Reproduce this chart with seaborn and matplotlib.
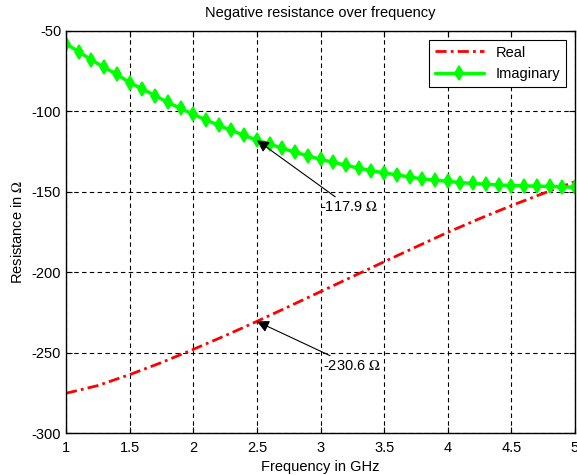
import numpy as np
import pandas as pd
import matplotlib
matplotlib.use('Agg')
import matplotlib.pyplot as plt
import seaborn as sns

# frequency grid for the imaginary part (markers every 0.1 GHz)
freq_imag = [1.0, 1.1, 1.2, 1.3, 1.4, 1.5, 1.6, 1.7, 1.8, 1.9,
             2.0, 2.1, 2.2, 2.3, 2.4, 2.5, 2.6, 2.7, 2.8, 2.9,
             3.0, 3.1, 3.2, 3.3, 3.4, 3.5, 3.6, 3.7, 3.8, 3.9,
             4.0, 4.1, 4.2, 4.3, 4.4, 4.5, 4.6, 4.7, 4.8, 4.9, 5.0]
imag_vals = [-57.9, -62.9, -68.0, -72.6, -77.0, -82.1, -86.0, -90.2, -94.4, -98.1,
             -101.8, -105.3, -108.7, -111.8, -114.9, -117.9, -120.2, -123.0, -125.4, -127.6,
             -129.8, -131.7, -133.5, -135.3, -136.9, -138.2, -139.5, -140.8, -142.0, -142.8,
             -143.5, -144.3, -144.8, -145.3, -145.8, -146.1, -146.3, -146.5, -146.7, -146.9, -147.2]

freq_real = [1.0, 1.25, 1.5, 1.75, 2.0, 2.25, 2.5, 2.75, 3.0,
             3.25, 3.5, 3.75, 4.0, 4.25, 4.5, 4.75, 5.0]
real_vals = [-275.3, -270.5, -263.7, -256.2, -248.0, -239.5, -230.6, -221.4, -212.1,
             -202.8, -193.5, -184.3, -175.2, -166.7, -158.6, -151.0, -143.7]

xticks = [1, 1.5, 2, 2.5, 3, 3.5, 4, 4.5, 5]
xticklabels = ['1', '1.5', '2', '2.5', '3', '3.5', '4', '4.5', '5']
yticks = [-300, -250, -200, -150, -100, -50]

df_real = pd.DataFrame({'Frequency': freq_real, 'Resistance': real_vals})
df_imag = pd.DataFrame({'Frequency': freq_imag, 'Resistance': imag_vals})

sns.set_style('ticks')
plt.rcParams['font.family'] = ['Liberation Sans', 'DejaVu Sans']
plt.rcParams['mathtext.fontset'] = 'stix'
plt.rcParams['axes.unicode_minus'] = False
plt.rcParams['text.color'] = 'black'
plt.rcParams['axes.labelcolor'] = 'black'
plt.rcParams['xtick.color'] = 'black'
plt.rcParams['ytick.color'] = 'black'
fs = 10.5

fig = plt.figure(figsize=(5.77, 4.75), dpi=100)
ax = fig.add_axes([66 / 577, 42 / 475, 509 / 577, 402 / 475])

sns.lineplot(data=df_real, x='Frequency', y='Resistance', ax=ax, color='#ff0000',
             linewidth=2, linestyle=(0, (4, 1.5, 1, 1.5)), label='Real')
sns.lineplot(data=df_imag, x='Frequency', y='Resistance', ax=ax, color='#00ff00',
             linewidth=2.5, marker='d', markersize=7, markeredgewidth=1.2,
             markeredgecolor='#00ff00', label='Imaginary')

ax.set_xlim(1, 5)
ax.set_ylim(-300, -50)
ax.set_xticks(xticks)
ax.set_xticklabels(xticklabels)
ax.set_yticks(yticks)
ax.tick_params(direction='in', top=True, right=True, labelsize=fs, length=4, width=0.8)
ax.tick_params(axis='x', pad=6)
ax.grid(True, color='black', linestyle='--', linewidth=0.8, dashes=(4, 3))
for s in ax.spines.values():
    s.set_linewidth(1)
    s.set_color('black')

ax.set_title('Negative resistance over frequency', fontsize=fs, pad=10)
ax.set_xlabel('Frequency in GHz', fontsize=fs, labelpad=3)
ax.set_ylabel(r'Resistance in $\Omega$', fontsize=fs, labelpad=5)

leg = ax.legend(loc='upper right', fontsize=fs, fancybox=False, edgecolor='black',
                framealpha=1, handlelength=3.4, borderaxespad=0.6, labelspacing=0.5)
leg.get_frame().set_linewidth(0.8)

arrow = dict(arrowstyle='-|>', color='black', lw=0.8, mutation_scale=18, shrinkA=0, shrinkB=0)
ax.annotate(r'-117.9 $\Omega$', xy=(2.5, -117.9), xytext=(3.0, -159.5),
            fontsize=fs, ha='left', va='center', arrowprops=arrow)
ax.annotate(r'-230.6 $\Omega$', xy=(2.5, -230.6), xytext=(3.02, -258.3),
            fontsize=fs, ha='left', va='center', arrowprops=arrow)

fig.savefig('out.png', dpi=100)
